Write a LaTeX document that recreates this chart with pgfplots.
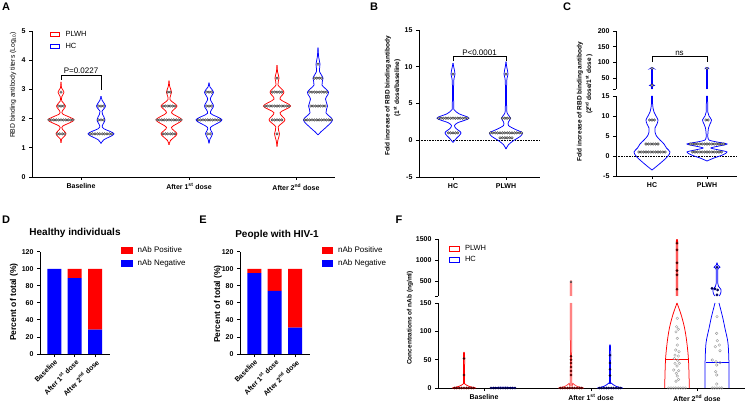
\documentclass[border=0pt]{standalone}
\usepackage{fontspec}
\setmainfont{Liberation Sans}
\usepackage{pgfplots}
\usepackage{pgfplotstable}
\pgfplotsset{compat=1.18}

\newcommand\tk{\bfseries\fontsize{7}{8}\selectfont}
\newcommand\lab{\bfseries\fontsize{6.5}{7.5}\selectfont}
\newcommand\ann{\fontsize{8}{9}\selectfont}

\pgfplotsset{
  gp/.style={
    scale only axis, clip=false, anchor=south west,
    axis x line*=bottom, axis y line*=left,
    axis line style={-, line width=0.9pt},
    tick align=outside, major tick length=3pt,
    every tick/.append style={line width=0.9pt, black},
    tick label style={font=\tk},
    /pgf/number format/assume math mode=true,
  },
  dotA/.style={only marks, mark=*, mark size=1.3pt,
    mark options={fill=gray!55, draw=gray!30!black, line width=0.3pt}},
  dotO/.style={only marks, mark=o, mark size=1.3pt,
    mark options={draw=gray!80, line width=0.4pt}},
  leg/.style={draw=none, fill=none, anchor=north west, inner sep=0pt,
    nodes={inner sep=1.5pt}, /tikz/every odd column/.append style={column sep=4pt}},
}
% violin outline: centre, style, table (y, half width w)
\newcommand\violin[3]{%
  \addplot[#2, smooth, line width=0.75pt, forget plot] table[x expr=#1+\thisrow{w}, y=y]{#3};
  \addplot[#2, smooth, line width=0.75pt, forget plot] table[x expr=#1-\thisrow{w}, y=y]{#3};}
% points: centre, style, table (offset d, y)
\newcommand\pts[3]{%
  \addplot[forget plot, #2] table[x expr=#1+\thisrow{d}, y=y]{#3};}

% ---------------- A: titers ----------------
\pgfplotstableread{
y w
1.17 0
1.30 0.7
1.477 5
1.65 1.2
1.75 2
1.954 13
2.15 2
2.25 1.2
2.431 4.5
2.60 0.8
2.75 0.8
2.908 3
3.05 0.6
3.26 0
}\vAa
\pgfplotstableread{
y w
1.15 0
1.28 3
1.477 13
1.65 3
1.75 1.2
1.954 4
2.15 1.5
2.25 1
2.431 4.5
2.62 1.2
2.77 0
}\vAb
\pgfplotstableread{
y w
1.10 0
1.25 1.5
1.477 8
1.70 2.5
1.954 13
2.20 2.5
2.431 8
2.65 1
2.908 2.5
3.10 0.7
3.30 0
}\vAc
\pgfplotstableread{
y w
1.15 0
1.30 1
1.477 3.5
1.70 1.5
1.954 13
2.18 1.5
2.431 4.5
2.67 1.3
2.908 4.5
3.08 1
3.23 0
}\vAd
\pgfplotstableread{
y w
1.04 0
1.25 0.8
1.477 2.5
1.72 1.2
1.954 8
2.20 3
2.431 13.5
2.67 3
2.908 7
3.15 1
3.385 2
3.60 0.6
3.83 0
}\vAe
\pgfplotstableread{
y w
1.44 0
1.55 3
1.70 8
1.954 14.5
2.20 8
2.431 9.5
2.67 7.5
2.908 10.5
3.15 4
3.385 5
3.62 1.5
3.862 2
4.10 0.7
4.43 0
}\vAf
\pgfplotstableread[row sep=\\]{d y\\ 0 2.908\\ -2.4 2.431\\ 0 2.431\\ 2.4 2.431\\
-12 1.954\\ -9.6 1.954\\ -7.2 1.954\\ -4.8 1.954\\ -2.4 1.954\\ 0 1.954\\ 2.4 1.954\\ 4.8 1.954\\ 7.2 1.954\\ 9.6 1.954\\ 12 1.954\\
-3.6 1.477\\ -1.2 1.477\\ 1.2 1.477\\ 3.6 1.477\\}\dAa
\pgfplotstableread[row sep=\\]{d y\\ -2.4 2.431\\ 0 2.431\\ 2.4 2.431\\ -2.4 1.954\\ 0 1.954\\ 2.4 1.954\\
-10.8 1.477\\ -8.4 1.477\\ -6 1.477\\ -3.6 1.477\\ -1.2 1.477\\ 1.2 1.477\\ 3.6 1.477\\ 6 1.477\\ 8.4 1.477\\ 10.8 1.477\\}\dAb
\pgfplotstableread[row sep=\\]{d y\\ -1.2 2.908\\ 1.2 2.908\\
-6 2.431\\ -3.6 2.431\\ -1.2 2.431\\ 1.2 2.431\\ 3.6 2.431\\ 6 2.431\\
-12 1.954\\ -9.6 1.954\\ -7.2 1.954\\ -4.8 1.954\\ -2.4 1.954\\ 0 1.954\\ 2.4 1.954\\ 4.8 1.954\\ 7.2 1.954\\ 9.6 1.954\\ 12 1.954\\
-6 1.477\\ -3.6 1.477\\ -1.2 1.477\\ 1.2 1.477\\ 3.6 1.477\\ 6 1.477\\}\dAc
\pgfplotstableread[row sep=\\]{d y\\ -2.4 2.908\\ 0 2.908\\ 2.4 2.908\\ -2.4 2.431\\ 0 2.431\\ 2.4 2.431\\
-10.8 1.954\\ -8.4 1.954\\ -6 1.954\\ -3.6 1.954\\ -1.2 1.954\\ 1.2 1.954\\ 3.6 1.954\\ 6 1.954\\ 8.4 1.954\\ 10.8 1.954\\
-1.2 1.477\\ 1.2 1.477\\}\dAd
\pgfplotstableread[row sep=\\]{d y\\ 0 3.385\\ -4.8 2.908\\ -2.4 2.908\\ 0 2.908\\ 2.4 2.908\\ 4.8 2.908\\
-12 2.431\\ -9.6 2.431\\ -7.2 2.431\\ -4.8 2.431\\ -2.4 2.431\\ 0 2.431\\ 2.4 2.431\\ 4.8 2.431\\ 7.2 2.431\\ 9.6 2.431\\ 12 2.431\\
-4.8 1.954\\ -2.4 1.954\\ 0 1.954\\ 2.4 1.954\\ 4.8 1.954\\ 0 1.477\\}\dAe
\pgfplotstableread[row sep=\\]{d y\\ 0 3.862\\ -3.6 3.385\\ -1.2 3.385\\ 1.2 3.385\\ 3.6 3.385\\
-8.4 2.908\\ -6 2.908\\ -3.6 2.908\\ -1.2 2.908\\ 1.2 2.908\\ 3.6 2.908\\ 6 2.908\\ 8.4 2.908\\
-7.2 2.431\\ -4.8 2.431\\ -2.4 2.431\\ 0 2.431\\ 2.4 2.431\\ 4.8 2.431\\ 7.2 2.431\\
-13.2 1.954\\ -10.8 1.954\\ -8.4 1.954\\ -6 1.954\\ -3.6 1.954\\ -1.2 1.954\\ 1.2 1.954\\ 3.6 1.954\\ 6 1.954\\ 8.4 1.954\\ 10.8 1.954\\ 13.2 1.954\\}\dAf

% ---------------- B: fold 1st/baseline ----------------
\pgfplotstableread{
y w
-0.3 0
0.2 3
1.0 8
1.6 3
2.0 1.5
2.4 5
3.0 16
3.6 6
4.1 1.5
4.6 0.7
8.0 0.7
9.0 2
10.0 0.7
10.5 0
}\vBa
\pgfplotstableread{
y w
-1.2 0
-0.6 2.5
0.0 8
0.5 14
1.0 16.5
1.5 9
2.0 2.5
2.5 2.5
3.0 4.5
3.5 2
4.2 0.7
8.0 0.7
9.0 2
10.0 0.7
10.7 0
}\vBb
\pgfplotstableread[row sep=\\]{d y\\ 0 9\\
-14.4 3\\ -12 3\\ -9.6 3\\ -7.2 3\\ -4.8 3\\ -2.4 3\\ 0 3\\ 2.4 3\\ 4.8 3\\ 7.2 3\\ 9.6 3\\ 12 3\\ 14.4 3\\
-4.8 1\\ -2.4 1\\ 0 1\\ 2.4 1\\ 4.8 1\\}\dBa
\pgfplotstableread[row sep=\\]{d y\\ 0 9\\ -3.6 3\\ -1.2 3\\ 1.2 3\\ 3.6 3\\
-15.6 1\\ -13.2 1\\ -10.8 1\\ -8.4 1\\ -6 1\\ -3.6 1\\ -1.2 1\\ 1.2 1\\ 3.6 1\\ 6 1\\ 8.4 1\\ 10.8 1\\ 13.2 1\\ 15.6 1\\
-6 0.333\\ -3.6 0.333\\ -1.2 0.333\\ 1.2 0.333\\ 3.6 0.333\\ 6 0.333\\}\dBb

% ---------------- C: fold 2nd/1st ----------------
\pgfplotstableread{
y w
-3.5 0
-2.5 5
-1 12
0 16
1 18
2 14.5
3 12
4 8
5 4.5
6 3
7 3
8 5
9 6
10 4
11 2
12 1
13 0.6
15 0.6
}\vCa
\pgfplotstableread{
y w
15 0.6
24 0.6
27 3
30 0.6
78 0.6
81 1.5
83 0
}\vCau
\pgfplotstableread{
y w
-1.25 0
-0.5 7
0.3 16
1 20
1.5 12
2 4
2.5 12
3 20
3.5 10
4 2
5 0.8
7 1.5
8 3
9 4.5
10 2
11 0.8
15 0.6
}\vCb
\pgfplotstableread{
y w
15 0.6
78 0.6
81 1.5
83 0
}\vCbu
\pgfplotstableread[row sep=\\]{d y\\ -2.4 9\\ 0 9\\ 2.4 9\\
-6 3\\ -3.6 3\\ -1.2 3\\ 1.2 3\\ 3.6 3\\ 6 3\\
-13.2 1\\ -10.8 1\\ -8.4 1\\ -6 1\\ -3.6 1\\ -1.2 1\\ 1.2 1\\ 3.6 1\\ 6 1\\ 8.4 1\\ 10.8 1\\ 13.2 1\\}\dCa
\pgfplotstableread[row sep=\\]{d y\\ 0 27\\ 0 81\\}\dCau
\pgfplotstableread[row sep=\\]{d y\\ -1.2 9\\ 1.2 9\\
-16.8 3\\ -14.4 3\\ -12 3\\ -9.6 3\\ -7.2 3\\ -4.8 3\\ -2.4 3\\ 0 3\\ 2.4 3\\ 4.8 3\\ 7.2 3\\ 9.6 3\\ 12 3\\ 14.4 3\\ 16.8 3\\
-14.4 1\\ -12 1\\ -9.6 1\\ -7.2 1\\ -4.8 1\\ -2.4 1\\ 0 1\\ 2.4 1\\ 4.8 1\\ 7.2 1\\ 9.6 1\\ 12 1\\ 14.4 1\\}\dCb
\pgfplotstableread[row sep=\\]{d y\\ 0 81\\}\dCbu

% ---------------- F: nAb concentrations ----------------
\pgfplotstableread{
y w
0 12
3 5
7 1
12 0.6
58 0.6
62 0
}\vFa
\pgfplotstableread{
y w
0 12.5
0.7 10
1.5 0
}\vFb
\pgfplotstableread{
y w
0 12.7
3 6
8 2
12 0.7
150 0.7
}\vFc
\pgfplotstableread{
y w
150 0.7
480 0.7
490 0
}\vFcu
\pgfplotstableread{
y w
0 12.7
3 6
9 1
13 0.6
70 0.6
74 0
}\vFd
\pgfplotstableread{
y w
0 12.3
25 12
55 11.3
85 9.5
108 7.3
130 4
150 0
}\vFe
\pgfplotstableread{
y w
150 0.7
1405 0.7
1420 0
}\vFeu
\pgfplotstableread{
y w
0 12
40 12
79 11
105 8
126 5.5
150 2
}\vFf
\pgfplotstableread{
y w
150 2
200 3.5
300 4
380 1.5
450 0.8
780 0.8
830 3
880 0.8
939 0
}\vFfu
\pgfplotstableread[row sep=\\]{d y\\ -9.6 0\\ -7.2 0\\ -4.8 0\\ -2.4 0\\ 0 0\\ 2.4 0\\ 4.8 0\\ 7.2 0\\ 9.6 0\\ 0 23\\ 0 52\\}\dFa
\pgfplotstableread[row sep=\\]{d y\\ -12 0\\ -9.6 0\\ -7.2 0\\ -4.8 0\\ -2.4 0\\ 0 0\\ 2.4 0\\ 4.8 0\\ 7.2 0\\ 9.6 0\\ 12 0\\}\dFb
\pgfplotstableread[row sep=\\]{d y\\ -10.8 0\\ -8.4 0\\ -6 0\\ -3.6 0\\ -1.2 0\\ 1.2 0\\ 3.6 0\\ 6 0\\ 8.4 0\\ 10.8 0\\
0 23\\ 0 30\\ 0 37\\ 0 44\\ 0 50\\ 0 56\\}\dFc
\pgfplotstableread[row sep=\\]{d y\\ 0 485\\}\dFcu
\pgfplotstableread[row sep=\\]{d y\\ -10.8 0\\ -8.4 0\\ -6 0\\ -3.6 0\\ -1.2 0\\ 1.2 0\\ 3.6 0\\ 6 0\\ 8.4 0\\ 10.8 0\\
0 22\\ 0 33\\ 0 44\\ 0 58\\}\dFd
\pgfplotstableread[row sep=\\]{d y\\ 0.3 123\\ -0.3 108\\ 1.3 103.5\\ -1 99\\ 0.3 87.6\\ 0.3 75.8\\ -1.3 67\\ 2 64\\
-2 58\\ 1.3 56.4\\ -2.7 52\\ 0.7 49\\ -2 43.5\\ 2.3 43.5\\ 0 38.8\\ -3.3 31.7\\ 1.7 30.6\\ -0.7 25.9\\ 0.3 21\\ 1.5 15\\ -1 12\\
-8.4 0\\ -6 0\\ -3.6 0\\ -1.2 0\\ 1.2 0\\ 3.6 0\\ 6 0\\ 8.4 0\\}\dFe
\pgfplotstableread[row sep=\\]{d y\\ 0 310\\ 0 650\\ 0 750\\ 0 935\\ 0 1240\\ 0 1400\\}\dFeu
\pgfplotstableread[row sep=\\]{d y\\ 0 126\\ -0.3 96.4\\ 0.3 83.5\\ 2.3 75.8\\ -1.7 72.9\\ 3 65.8\\ -4.7 49.4\\ -1 46.4\\
3 44.7\\ -0.3 40.6\\ -1.3 28.8\\ -0.3 22.9\\ -0.3 7\\ -4.8 0\\ -2.4 0\\ 0 0\\ 2.4 0\\ 4.8 0\\}\dFf
\pgfplotstableread[row sep=\\]{d y\\ -5 332\\ -2 320\\ 0.7 292\\ 0 175\\ 0 830\\}\dFfu

\begin{document}
\begin{tikzpicture}
\path[use as bounding box] (0pt,0pt) rectangle (745pt,402pt);

% ===== A =====
\begin{axis}[gp, at={(32pt,225pt)}, width=303pt, height=146pt,
  xmin=0, xmax=303, ymin=0, ymax=5, ytick={0,1,2,3,4,5},
  xtick={49,157,264},
  xticklabels={Baseline, {After 1\textsuperscript{st} dose}, {After 2\textsuperscript{nd} dose}},
  legend image code/.code={\draw[#1, line width=0.75pt] (0pt,-2.3pt) rectangle (9.5pt,2.3pt);},
  legend style={leg, at={(0.058,1.01)}, font=\fontsize{7.5}{8}\selectfont, row sep=2pt},
  legend cell align=left]
\addlegendimage{red}\addlegendentry{PLWH}
\addlegendimage{blue}\addlegendentry{HC}
\violin{29}{red}{\vAa}
\violin{69}{blue}{\vAb}
\violin{137}{red}{\vAc}
\violin{177}{blue}{\vAd}
\violin{245}{red}{\vAe}
\violin{286}{blue}{\vAf}
\pts{29}{dotA}{\dAa}
\pts{69}{dotA}{\dAb}
\pts{137}{dotA}{\dAc}
\pts{177}{dotA}{\dAd}
\pts{245}{dotA}{\dAe}
\pts{286}{dotA}{\dAf}
\draw[line width=0.75pt] (29,3.32) -- (29,3.49) -- (69,3.49) -- (69,2.98);
\node[font=\ann, anchor=south, inner sep=1pt] at (49,3.49) {P=0.0227};
\end{axis}

% ===== B =====
\begin{axis}[gp, at={(419pt,225pt)}, width=121pt, height=147pt,
  xmin=0, xmax=121, ymin=-5, ymax=15, ytick={-5,0,5,10,15},
  xtick={34,87}, xticklabels={HC,PLWH}]
\addplot[forget plot, black, densely dotted, line width=0.6pt] coordinates {(0,0) (121,0)};
\violin{34}{blue}{\vBa}
\violin{87}{blue}{\vBb}
\pts{34}{dotA}{\dBa}
\pts{87}{dotA}{\dBb}
\draw[line width=0.75pt] (34,10.78) -- (34,11.37) -- (87,11.37) -- (87,10.78);
\node[font=\ann, anchor=south, inner sep=1pt] at (60.5,11.37) {P<0.0001};
\end{axis}

% ===== C =====
\begin{axis}[gp, axis x line=none, at={(616pt,313pt)}, width=121pt, height=58pt,
  xmin=0, xmax=121, ymin=15, ymax=200,
  ytick={15,50,100,150,200}, yticklabels={{},50,100,150,200}]
\violin{36}{blue}{\vCau}
\violin{91}{blue}{\vCbu}
\pts{36}{dotA}{\dCau}
\pts{91}{dotA}{\dCbu}
\draw[line width=0.75pt] (36,101) -- (36,118) -- (91,118) -- (91,101);
\node[font=\ann, anchor=south, inner sep=1pt] at (63.5,118) {ns};
\end{axis}
\begin{axis}[gp, at={(616pt,226pt)}, width=121pt, height=80pt,
  xmin=0, xmax=121, ymin=-5, ymax=15, ytick={-5,0,5,10,15},
  xtick={36,91}, xticklabels={HC,PLWH}]
\addplot[forget plot, black, densely dotted, line width=0.6pt] coordinates {(0,0) (121,0)};
\violin{36}{blue}{\vCa}
\violin{91}{blue}{\vCb}
\pts{36}{dotA}{\dCa}
\pts{91}{dotA}{\dCb}
\end{axis}

% ===== D =====
\begin{axis}[gp, at={(40pt,48pt)}, width=70pt, height=102.3pt,
  xmin=0, xmax=70, ymin=0, ymax=120, ytick={0,20,...,120},
  xtick={14.3,34.7,55},
  xticklabels={Baseline, {After 1\textsuperscript{st} dose}, {After 2\textsuperscript{nd} dose}},
  x tick label style={rotate=45, anchor=north east, inner sep=1pt},
  ybar stacked, bar width=14pt,
  legend style={leg, at={(1.157,1.066)}, font=\fontsize{8}{9}\selectfont, row sep=3pt},
  legend cell align=left]
\addplot[fill=blue, draw=none, forget plot] coordinates {(14.3,100) (34.7,89) (55,28.5)};
\addplot[fill=red, draw=none, forget plot] coordinates {(14.3,0) (34.7,11) (55,71.5)};
\addlegendimage{legend image code/.code={\fill[red] (0pt,-3pt) rectangle (10.5pt,3pt);}}
\addlegendentry{nAb Positive}
\addlegendimage{legend image code/.code={\fill[blue] (0pt,-3pt) rectangle (10.5pt,3pt);}}
\addlegendentry{nAb Negative}
\end{axis}

% ===== E =====
\begin{axis}[gp, at={(240pt,48pt)}, width=70pt, height=102.3pt,
  xmin=0, xmax=70, ymin=0, ymax=120, ytick={0,20,...,120},
  xtick={14.3,34.7,55},
  xticklabels={Baseline, {After 1\textsuperscript{st} dose}, {After 2\textsuperscript{nd} dose}},
  x tick label style={rotate=45, anchor=north east, inner sep=1pt},
  ybar stacked, bar width=14pt,
  legend style={leg, at={(1.164,1.066)}, font=\fontsize{8}{9}\selectfont, row sep=3pt},
  legend cell align=left]
\addplot[fill=blue, draw=none, forget plot] coordinates {(14.3,95) (34.7,74) (55,31)};
\addplot[fill=red, draw=none, forget plot] coordinates {(14.3,5) (34.7,26) (55,69)};
\addlegendimage{legend image code/.code={\fill[red] (0pt,-3pt) rectangle (10.5pt,3pt);}}
\addlegendentry{nAb Positive}
\addlegendimage{legend image code/.code={\fill[blue] (0pt,-3pt) rectangle (10.5pt,3pt);}}
\addlegendentry{nAb Negative}
\end{axis}

% ===== F =====
\begin{axis}[gp, axis x line=none, at={(438pt,106pt)}, width=307pt, height=57pt,
  xmin=0, xmax=307, ymin=150, ymax=1500,
  ytick={150,500,1000,1500}, yticklabels={{},500,1000,1500},
  legend image code/.code={\draw[#1, line width=0.75pt] (0pt,-2.3pt) rectangle (9.5pt,2.3pt);},
  legend style={leg, at={(0.036,0.912)}, font=\fontsize{7.5}{8}\selectfont, row sep=1pt},
  legend cell align=left]
\addlegendimage{red}\addlegendentry{PLWH}
\addlegendimage{blue}\addlegendentry{HC}
\violin{133}{red!75}{\vFcu}
\violin{239}{red}{\vFeu}
\violin{279}{blue}{\vFfu}
\pts{133}{dotA, mark size=1.1pt}{\dFcu}
\pts{239}{dotA, mark size=1.2pt, mark options={draw=red!50!black}}{\dFeu}
\pts{279}{dotA, mark size=1.2pt, mark options={draw=blue!50!black}}{\dFfu}
\end{axis}
\begin{axis}[gp, at={(438pt,14pt)}, width=307pt, height=85pt,
  xmin=0, xmax=307, ymin=0, ymax=150, ytick={0,50,100,150},
  xtick={46,153,259},
  xticklabels={Baseline, {After 1\textsuperscript{st} dose}, {After 2\textsuperscript{nd} dose}}]
\violin{26}{red}{\vFa}
\violin{65}{blue}{\vFb}
\violin{133}{red!75}{\vFc}
\violin{172}{blue}{\vFd}
\violin{239}{red}{\vFe}
\violin{279}{blue}{\vFf}
\addplot[forget plot, red, line width=0.75pt] coordinates {(227.5,50.6) (250.5,50.6)};
\addplot[forget plot, blue, line width=0.75pt] coordinates {(267.5,46) (290.5,46)};
\pts{26}{dotA, mark size=1.1pt, mark options={draw=red!50!black}}{\dFa}
\pts{65}{dotA, mark size=1.1pt, mark options={draw=blue!40!black}}{\dFb}
\pts{133}{dotA, mark size=1.1pt, mark options={draw=red!50!black}}{\dFc}
\pts{172}{dotA, mark size=1.1pt, mark options={draw=blue!40!black}}{\dFd}
\pts{239}{dotO}{\dFe}
\pts{279}{dotO}{\dFf}
\end{axis}

% ===== labels =====
\begin{scope}[font=\bfseries\fontsize{11}{12}\selectfont]
\node at (6pt,395pt) {A};
\node at (374pt,395pt) {B};
\node at (567pt,395pt) {C};
\node at (6pt,182pt) {D};
\node at (203pt,182pt) {E};
\node at (399pt,182pt) {F};
\end{scope}
\node[rotate=90, font=\fontsize{6.8}{7.5}\selectfont] at (13pt,317pt) {RBD binding antibody titers (Log\textsubscript{10})};
\node[rotate=90, font=\lab] at (388pt,306pt) {Fold increase of RBD binding antibody};
\node[rotate=90, font=\lab] at (397pt,314pt) {(1\textsuperscript{st} dose/baseline)};
\node[rotate=90, font=\lab] at (580pt,300pt) {Fold increase of RBD binding antibody};
\node[rotate=90, font=\lab] at (589pt,318pt) {(2\textsuperscript{nd} dose/1\textsuperscript{st} dose )};
\node[rotate=90, font=\bfseries\fontsize{8.5}{9.5}\selectfont] at (14pt,100pt) {Percent of total (\%)};
\node[rotate=90, font=\bfseries\fontsize{8.5}{9.5}\selectfont] at (218pt,98pt) {Percent of total (\%)};
\node[rotate=90, font=\lab] at (410pt,84pt) {Concentrations of nAb (ng/ml)};
\node[font=\bfseries\fontsize{10}{11}\selectfont] at (75pt,169pt) {Healthy individuals};
\node[font=\bfseries\fontsize{10}{11}\selectfont] at (277pt,167pt) {People with HIV-1};
\end{tikzpicture}
\end{document}
